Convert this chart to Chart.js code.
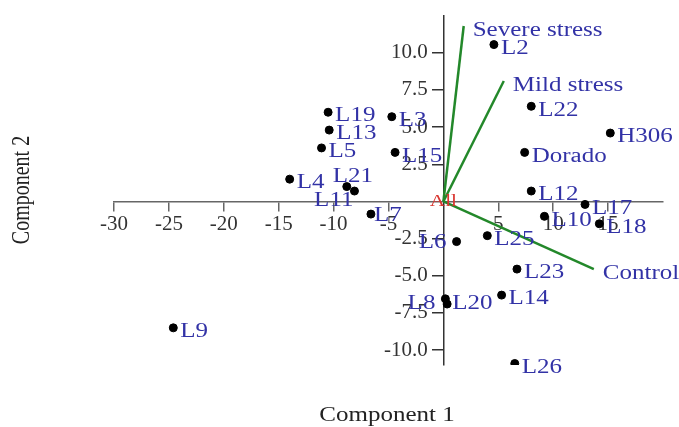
<!DOCTYPE html>
<html>
<head>
<meta charset="utf-8">
<script src="https://cdn.jsdelivr.net/npm/chart.js@4.4.1/dist/chart.umd.min.js"></script>
<style>
  html, body { margin: 0; padding: 0; background: #fff; }
  #wrap { width: 679px; height: 427px; }
</style>
</head>
<body>
<div id="wrap"><canvas id="biplot" width="679" height="427"></canvas></div>
<script>
// --- data ---
const genotypes = ["L2", "L22", "H306", "Dorado", "L3", "L15", "L19", "L13", "L5", "L4",
  "L21", "L11", "L7", "L12", "L17", "L10", "L18", "L6", "L25", "L23", "L14", "L20", "L8", "L26", "L9"];
const comp1 = [4.6, 8.0, 15.2, 7.4, -4.7, -4.4, -10.5, -10.4, -11.1, -14.0,
  -8.8, -8.1, -6.6, 8.0, 12.9, 9.2, 14.2, 1.2, 4.0, 6.7, 5.3, 0.34, 0.18, 6.5, -24.6];
const comp2 = [10.55, 6.4, 4.6, 3.3, 5.7, 3.3, 6.0, 4.8, 3.6, 1.5,
  1.0, 0.7, -0.85, 0.7, -0.2, -1.0, -1.5, -2.7, -2.3, -4.55, -6.3, -6.9, -6.55, -10.9, -8.5];

// loading vectors (drawn from the origin)
const vectorNames = ["Severe stress", "Mild stress", "Control"];
const vectorX = [1.85, 5.5, 13.7];
const vectorY = [11.8, 8.1, -4.55];

const xTicks = [-30, -25, -20, -15, -10, -5, 5, 10, 15];
const yTicks = [-10, -7.5, -5, -2.5, 2.5, 5, 7.5, 10];
const originLabel = "All";
const xTitle = "Component 1";
const yTitle = "Component 2";

// label placement tweaks (style only): [dx, dy, align]
const labelNudge = {
  L6: [-10, 1, "right"],
  L8: [-10, 5, "right"],
  L11: [-1, 10, "right"],
  L21: [-14, -10, "left"],
  L7: [3, 2, "left"],
  L20: [5, 0, "left"]
};

const SERIF = '"Liberation Serif", "Times New Roman", serif';
const LABEL_BLUE = "#3232a6";
const VEC_GREEN = "#23882a";
const STRETCH = 1.25; // source picture text is wide

const points = genotypes.map((g, i) => ({ x: comp1[i], y: comp2[i] }));

const vectorSets = vectorNames.map((n, i) => ({
  label: n,
  type: "line",
  data: [{ x: 0, y: 0 }, { x: vectorX[i], y: vectorY[i] }],
  borderColor: VEC_GREEN,
  borderWidth: 2.5,
  pointRadius: 0,
  fill: false
}));

function wideText(ctx, text, x, y, align) {
  ctx.save();
  ctx.translate(x, y);
  ctx.scale(STRETCH, 1);
  ctx.textAlign = align;
  ctx.fillText(text, 0, 0);
  ctx.restore();
}

// text labels, origin marker and axis titles
const labelPlugin = {
  id: "biplotLabels",
  afterDatasetsDraw(chart) {
    const ctx = chart.ctx;
    const sx = chart.scales.x, sy = chart.scales.y;
    ctx.save();
    ctx.font = "20px " + SERIF;
    ctx.fillStyle = LABEL_BLUE;
    ctx.textBaseline = "middle";

    // vector names
    for (let i = 1; i <= vectorNames.length; i++) {
      const end = chart.getDatasetMeta(i).data[1];
      wideText(ctx, vectorNames[i - 1], end.x + 9, end.y + 5, "left");
    }

    // genotype names
    chart.getDatasetMeta(0).data.forEach((pt, i) => {
      const name = genotypes[i];
      const n = labelNudge[name] || [7, 4, "left"];
      wideText(ctx, name, pt.x + n[0], pt.y + n[1], n[2]);
    });

    // origin label
    ctx.fillStyle = "#d9352f";
    ctx.font = "17px " + SERIF;
    wideText(ctx, originLabel, sx.getPixelForValue(0), sy.getPixelForValue(0), "center");

    // axis titles
    ctx.fillStyle = "#222";
    ctx.font = "20px " + SERIF;
    wideText(ctx, xTitle, 387, 416, "center");
    ctx.translate(22, 190);
    ctx.scale(STRETCH, 1);
    ctx.rotate(-Math.PI / 2);
    ctx.textAlign = "center";
    ctx.fillText(yTitle, 0, 0);
    ctx.restore();
  }
};

new Chart(document.getElementById("biplot"), {
  type: "scatter",
  data: {
    datasets: [
      {
        label: "Genotypes",
        data: points,
        backgroundColor: "#000",
        borderColor: "#000",
        pointRadius: 4,
        pointHoverRadius: 4
      },
      ...vectorSets
    ]
  },
  options: {
    responsive: false,
    animation: false,
    layout: { padding: { left: 114, right: 16, top: 12, bottom: 62 } },
    plugins: { legend: { display: false }, tooltip: { enabled: false } },
    scales: {
      x: {
        type: "linear",
        min: -30,
        max: 20,
        position: { y: 0 },
        afterFit(s) { s.height = 0; },
        afterBuildTicks(s) { s.ticks = xTicks.map(v => ({ value: v })); },
        border: { display: true, color: "#666", width: 1.5 },
        grid: { display: true, drawOnChartArea: false, drawTicks: true, tickLength: 9, color: "#666", lineWidth: 1.5 },
        ticks: {
          color: "#333",
          padding: 1,
          maxRotation: 0,
          font: { family: SERIF, size: 21 },
          callback: v => String(v)
        }
      },
      y: {
        type: "linear",
        min: -11,
        max: 12.5,
        position: { x: 0 },
        afterFit(s) { s.width = 0; },
        afterBuildTicks(s) { s.ticks = yTicks.map(v => ({ value: v })); },
        border: { display: true, color: "#333", width: 1.5 },
        grid: { display: true, drawOnChartArea: false, drawTicks: true, tickLength: 11, color: "#333", lineWidth: 1.5 },
        ticks: {
          color: "#333",
          padding: 3,
          font: { family: SERIF, size: 21 },
          // centred y axis puts labels right on the line; trailing spaces clear the tick marks
          callback: v => Number(v).toFixed(1) + "   "
        }
      }
    }
  },
  plugins: [labelPlugin]
});
</script>
</body>
</html>
